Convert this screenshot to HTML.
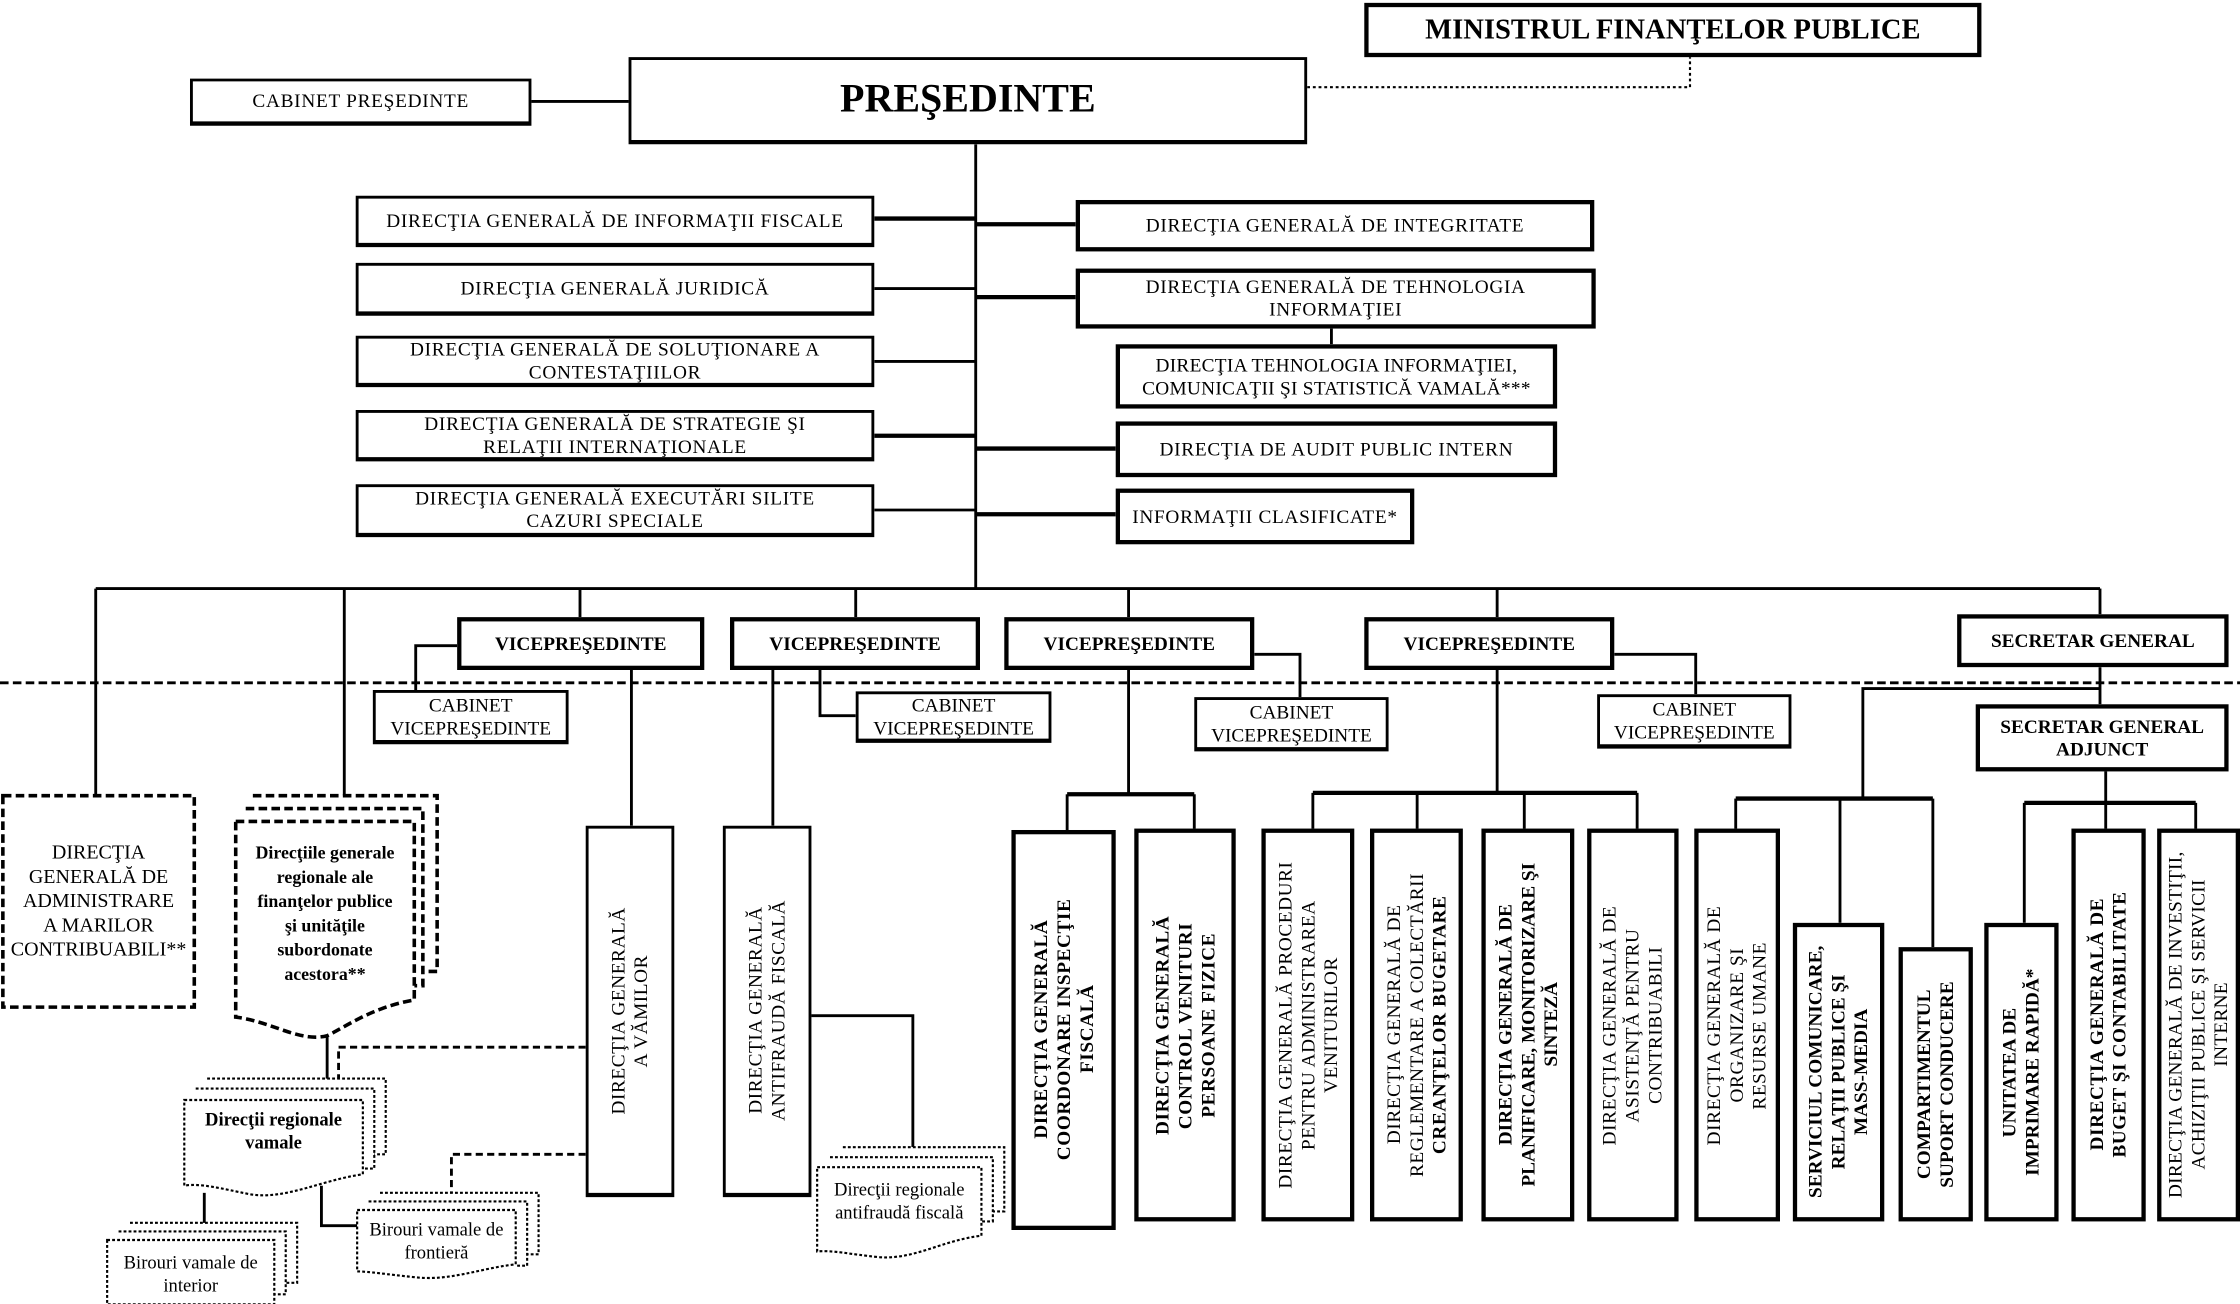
<!DOCTYPE html>
<html><head><meta charset="utf-8">
<style>
html,body{margin:0;padding:0;background:#fff;}
body{width:2240px;height:1304px;overflow:hidden;position:relative;}
#w{position:absolute;left:0;top:0;width:1568px;height:913px;transform:scale(1.428571);transform-origin:0 0;font-family:"Liberation Serif",serif;color:#000;}
.b{position:absolute;border:2px solid #000;border-bottom-width:3px;box-sizing:border-box;background:#fff;display:flex;align-items:center;justify-content:center;text-align:center;font-size:13.5px;line-height:16px;letter-spacing:0.5px;white-space:nowrap;}
.k{border-width:3px;}
.bold{font-weight:bold;}
.v{writing-mode:vertical-rl;transform:rotate(180deg);font-size:13.5px;line-height:16px;letter-spacing:0.4px;}
.t{position:absolute;text-align:center;font-size:13.5px;line-height:16px;letter-spacing:0px;display:flex;align-items:center;justify-content:center;white-space:nowrap;}
svg{position:absolute;left:0;top:0;}
</style></head><body><div id="w">
<svg width="1568" height="913" viewBox="0 0 1568 913">
<g stroke="#000" fill="none" stroke-width="2">
<line x1="372" y1="71" x2="440" y2="71"/>
<polyline points="915,61 1183,61 1183,40" stroke-dasharray="2,2" stroke-width="1.5"/>
<line x1="683" y1="101" x2="683" y2="412"/>
<line x1="612" y1="153" x2="683" y2="153" stroke-width="3"/>
<line x1="612" y1="202" x2="683" y2="202"/>
<line x1="612" y1="253" x2="683" y2="253"/>
<line x1="612" y1="305" x2="683" y2="305" stroke-width="3"/>
<line x1="612" y1="357" x2="683" y2="357"/>
<line x1="683" y1="157" x2="753" y2="157" stroke-width="3"/>
<line x1="683" y1="208" x2="753" y2="208" stroke-width="3"/>
<line x1="932" y1="230" x2="932" y2="241"/>
<line x1="683" y1="314" x2="781" y2="314" stroke-width="3"/>
<line x1="683" y1="360" x2="781" y2="360" stroke-width="3"/>
<line x1="67" y1="412" x2="1470" y2="412"/>
<line x1="67" y1="412" x2="67" y2="557"/>
<line x1="241" y1="412" x2="241" y2="557"/>
<line x1="406" y1="412" x2="406" y2="432"/>
<line x1="599" y1="412" x2="599" y2="432"/>
<line x1="790" y1="412" x2="790" y2="432"/>
<line x1="1048" y1="412" x2="1048" y2="432"/>
<line x1="1470" y1="412" x2="1470" y2="430"/>
<line x1="0" y1="478" x2="1568" y2="478" stroke-dasharray="6,3"/>
<polyline points="320,452 291,452 291,483"/>
<polyline points="574,469 574,501 599,501"/>
<polyline points="878,458 910,458 910,488"/>
<polyline points="1130,458 1187,458 1187,486"/>
<line x1="1470" y1="467" x2="1470" y2="493"/>
<polyline points="1470,482 1304,482 1304,559"/>
<line x1="442" y1="469" x2="442" y2="578"/>
<line x1="541" y1="469" x2="541" y2="578"/>
<line x1="790" y1="469" x2="790" y2="556"/>
<line x1="747" y1="556" x2="836" y2="556" stroke-width="3"/>
<line x1="747" y1="556" x2="747" y2="581"/>
<line x1="836" y1="556" x2="836" y2="581"/>
<line x1="1048" y1="469" x2="1048" y2="555"/>
<line x1="919" y1="555" x2="1146" y2="555" stroke-width="3"/>
<line x1="919" y1="555" x2="919" y2="580"/>
<line x1="992" y1="555" x2="992" y2="580"/>
<line x1="1067" y1="555" x2="1067" y2="580"/>
<line x1="1146" y1="555" x2="1146" y2="580"/>
<line x1="1215" y1="559" x2="1353" y2="559" stroke-width="3"/>
<line x1="1215" y1="559" x2="1215" y2="580"/>
<line x1="1288" y1="559" x2="1288" y2="646"/>
<line x1="1353" y1="559" x2="1353" y2="663"/>
<line x1="1474" y1="540" x2="1474" y2="562"/>
<line x1="1417" y1="562" x2="1537" y2="562" stroke-width="3"/>
<line x1="1417" y1="562" x2="1417" y2="646"/>
<line x1="1474" y1="562" x2="1474" y2="580"/>
<line x1="1537" y1="562" x2="1537" y2="580"/>
<line x1="229" y1="725" x2="229" y2="765"/>
<polyline points="410,733 237,733 237,757" stroke-dasharray="5,3"/>
<line x1="143" y1="835" x2="143" y2="860"/>
<polyline points="225,830 225,858 250,858" />
<polyline points="410,808 316,808 316,835" stroke-dasharray="5,3"/>
<polyline points="568,711 639,711 639,803"/>
</g>
<g stroke="#000" fill="#fff" stroke-width="2.5" stroke-dasharray="6,3">
<rect x="2" y="557" width="134" height="148"/>
<path d="M177,557 H306 V680 H296"/>
<path d="M172,566 H296 V690 H290"/>
<path d="M165,575 H290 V700 C260,705 240,720 229,725 C210,730 190,715 165,712 Z"/>
</g>
<g stroke="#000" fill="#fff" stroke-width="1.5" stroke-dasharray="2,1.5">
<path d="M145,755 H270 V808 H262"/>
<path d="M137,762 H262 V818 H254"/>
<path d="M129,770 H254 V822 C225,826 200,840 175,836 C155,832 140,828 129,830 Z"/>
<path d="M91,856 H208 V898 H200"/>
<path d="M83,862 H200 V906 H192"/>
<path d="M75,868 H192 V913 H75 Z"/>
<path d="M266,835 H377 V878 H369"/>
<path d="M258,841 H369 V886 H361"/>
<path d="M250,847 H361 V885 C335,888 315,897 290,894 C270,892 258,890 250,890 Z"/>
<path d="M590,803 H703 V848 H695"/>
<path d="M581,810 H695 V855 H687"/>
<path d="M572,817 H687 V865 C660,868 640,882 615,880 C595,878 583,875 572,876 Z"/>
</g>
</svg>

<div class="b k bold" style="left:955px;top:2px;width:432px;height:38px;font-size:20px;letter-spacing:0;">MINISTRUL FINANŢELOR PUBLICE</div>
<div class="b" style="left:440px;top:40px;width:475px;height:61px;font-size:28px;font-weight:bold;letter-spacing:0;">PREŞEDINTE</div>
<div class="b" style="left:133px;top:55px;width:239px;height:33px;">CABINET PREŞEDINTE</div>

<div class="b" style="left:249px;top:137px;width:363px;height:36px;">DIRECŢIA GENERALĂ DE INFORMAŢII FISCALE</div>
<div class="b" style="left:249px;top:184px;width:363px;height:37px;">DIRECŢIA GENERALĂ JURIDICĂ</div>
<div class="b" style="left:249px;top:235px;width:363px;height:36px;">DIRECŢIA GENERALĂ DE SOLUŢIONARE A<br>CONTESTAŢIILOR</div>
<div class="b" style="left:249px;top:287px;width:363px;height:36px;">DIRECŢIA GENERALĂ DE STRATEGIE ŞI<br>RELAŢII INTERNAŢIONALE</div>
<div class="b" style="left:249px;top:339px;width:363px;height:37px;">DIRECŢIA GENERALĂ EXECUTĂRI SILITE<br>CAZURI SPECIALE</div>

<div class="b k" style="left:753px;top:140px;width:363px;height:36px;">DIRECŢIA GENERALĂ DE INTEGRITATE</div>
<div class="b k" style="left:753px;top:188px;width:364px;height:42px;">DIRECŢIA GENERALĂ DE TEHNOLOGIA<br>INFORMAŢIEI</div>
<div class="b k" style="left:781px;top:241px;width:309px;height:45px;letter-spacing:0.2px;">DIRECŢIA TEHNOLOGIA INFORMAŢIEI,<br>COMUNICAŢII ŞI STATISTICĂ VAMALĂ***</div>
<div class="b k" style="left:781px;top:295px;width:309px;height:39px;">DIRECŢIA DE AUDIT PUBLIC INTERN</div>
<div class="b k" style="left:781px;top:342px;width:209px;height:39px;">INFORMAŢII CLASIFICATE*</div>

<div class="b k bold" style="left:320px;top:432px;width:173px;height:37px;letter-spacing:0;">VICEPREŞEDINTE</div>
<div class="b k bold" style="left:511px;top:432px;width:175px;height:37px;letter-spacing:0;">VICEPREŞEDINTE</div>
<div class="b k bold" style="left:703px;top:432px;width:175px;height:37px;letter-spacing:0;">VICEPREŞEDINTE</div>
<div class="b k bold" style="left:955px;top:432px;width:175px;height:37px;letter-spacing:0;">VICEPREŞEDINTE</div>
<div class="b k bold" style="left:1370px;top:430px;width:190px;height:37px;letter-spacing:0;">SECRETAR GENERAL</div>
<div class="b k bold" style="left:1383px;top:493px;width:177px;height:47px;letter-spacing:0;">SECRETAR GENERAL<br>ADJUNCT</div>

<div class="b" style="left:261px;top:483px;width:137px;height:38px;letter-spacing:0;">CABINET<br>VICEPREŞEDINTE</div>
<div class="b" style="left:599px;top:484px;width:137px;height:36px;letter-spacing:0;">CABINET<br>VICEPREŞEDINTE</div>
<div class="b" style="left:836px;top:488px;width:136px;height:38px;letter-spacing:0;">CABINET<br>VICEPREŞEDINTE</div>
<div class="b" style="left:1118px;top:486px;width:136px;height:38px;letter-spacing:0;">CABINET<br>VICEPREŞEDINTE</div>

<div class="t" style="left:2px;top:557px;width:134px;height:148px;font-size:14px;line-height:17px;">DIRECŢIA<br>GENERALĂ DE<br>ADMINISTRARE<br>A MARILOR<br>CONTRIBUABILI**</div>
<div class="t bold" style="left:165px;top:585px;width:125px;height:110px;font-size:12.5px;line-height:17px;">Direcţiile generale<br>regionale ale<br>finanţelor publice<br>şi unităţile<br>subordonate<br>acestora**</div>
<div class="t bold" style="left:129px;top:772px;width:125px;height:40px;font-size:13px;">Direcţii regionale<br>vamale</div>
<div class="t" style="left:75px;top:872px;width:117px;height:40px;font-size:13px;">Birouri vamale de<br>interior</div>
<div class="t" style="left:250px;top:850px;width:111px;height:38px;font-size:13px;">Birouri vamale de<br>frontieră</div>
<div class="t" style="left:572px;top:820px;width:115px;height:42px;font-size:13px;">Direcţii regionale<br>antifraudă fiscală</div>

<div class="b" style="left:410px;top:578px;width:62px;height:260px;"><div class="v">DIRECŢIA GENERALĂ<br>A VĂMILOR</div></div>
<div class="b" style="left:506px;top:578px;width:62px;height:260px;"><div class="v">DIRECŢIA GENERALĂ<br>ANTIFRAUDĂ FISCALĂ</div></div>

<div class="b k bold" style="left:708px;top:581px;width:73px;height:280px;"><div class="v">DIRECŢIA GENERALĂ<br>COORDONARE INSPECŢIE<br>FISCALĂ</div></div>
<div class="b k bold" style="left:794px;top:580px;width:71px;height:275px;"><div class="v">DIRECŢIA GENERALĂ<br>CONTROL VENITURI<br>PERSOANE FIZICE</div></div>

<div class="b k" style="left:883px;top:580px;width:65px;height:275px;"><div class="v">DIRECŢIA GENERALĂ PROCEDURI<br>PENTRU ADMINISTRAREA<br>VENITURILOR</div></div>
<div class="b k" style="left:959px;top:580px;width:65px;height:275px;"><div class="v">DIRECŢIA GENERALĂ DE<br>REGLEMENTARE A COLECTĂRII<br><b>CREANŢELOR BUGETARE</b></div></div>
<div class="b k bold" style="left:1037px;top:580px;width:65px;height:275px;"><div class="v" style="letter-spacing:0;">DIRECŢIA GENERALĂ DE<br>PLANIFICARE, MONITORIZARE ŞI<br>SINTEZĂ</div></div>
<div class="b k" style="left:1111px;top:580px;width:64px;height:275px;"><div class="v">DIRECŢIA GENERALĂ DE<br>ASISTENŢĂ PENTRU<br>CONTRIBUABILI</div></div>

<div class="b k" style="left:1186px;top:580px;width:60px;height:275px;"><div class="v">DIRECŢIA GENERALĂ DE<br>ORGANIZARE ŞI<br>RESURSE UMANE</div></div>
<div class="b k bold" style="left:1255px;top:646px;width:64px;height:209px;"><div class="v" style="letter-spacing:0;">SERVICIUL COMUNICARE,<br>RELAŢII PUBLICE ŞI<br>MASS-MEDIA</div></div>
<div class="b k bold" style="left:1329px;top:663px;width:52px;height:192px;"><div class="v" style="letter-spacing:0;">COMPARTIMENTUL<br>SUPORT CONDUCERE</div></div>
<div class="b k bold" style="left:1389px;top:646px;width:52px;height:209px;"><div class="v" style="letter-spacing:0;">UNITATEA DE<br>IMPRIMARE RAPIDĂ*</div></div>
<div class="b k bold" style="left:1450px;top:580px;width:52px;height:275px;"><div class="v">DIRECŢIA GENERALĂ DE<br>BUGET ŞI CONTABILITATE</div></div>
<div class="b k" style="left:1510px;top:580px;width:58px;height:275px;"><div class="v" style="letter-spacing:0.2px;">DIRECŢIA GENERALĂ DE INVESTIŢII,<br>ACHIZIŢII PUBLICE ŞI SERVICII<br>INTERNE</div></div>
</div></body></html>
